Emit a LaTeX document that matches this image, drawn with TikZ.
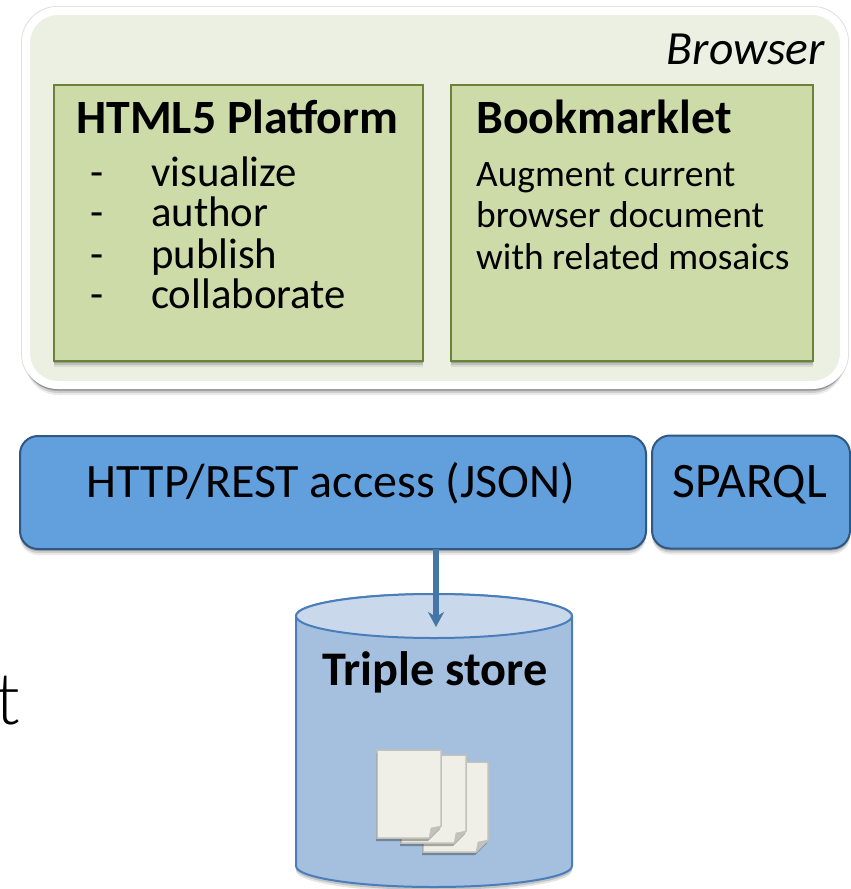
\documentclass[tikz,border=0pt]{standalone}
\usepackage{fontspec}
\setmainfont{Carlito}
\usetikzlibrary{shadows,arrows.meta}
\definecolor{browserfill}{HTML}{EBF0E2}
\definecolor{panelfill}{HTML}{CDDBA9}
\definecolor{paneledge}{HTML}{6B8238}
\definecolor{apifill}{HTML}{629FDD}
\definecolor{apiedge}{HTML}{2F5883}
\definecolor{storefill}{HTML}{A5BFDF}
\definecolor{storetop}{HTML}{C9D8EB}
\definecolor{storeedge}{HTML}{4A7EBB}
\definecolor{arrowedge}{HTML}{4576A8}
\definecolor{paperfill}{HTML}{EFEFE8}
\definecolor{paperedge}{HTML}{C2C2BC}
\tikzset{
softshadow/.style={
drop shadow={shadow xshift=0pt,shadow yshift=-#1-6pt,opacity=.08,fill=black},
drop shadow={shadow xshift=0pt,shadow yshift=-#1-4pt,opacity=.12,fill=black},
drop shadow={shadow xshift=0pt,shadow yshift=-#1-2pt,opacity=.2,fill=black}},
panel/.style={draw=paneledge,line width=2pt,fill=panelfill,minimum width=#1,minimum height=276pt,inner sep=0pt,outer sep=0pt,softshadow=0pt},
api/.style={draw=apiedge,line width=2pt,fill=apifill,rounded corners=18pt,minimum width=#1,minimum height=113pt,inner sep=0pt,outer sep=0pt,softshadow=0pt},
heading/.style={anchor=base west,inner sep=0pt,font=\fontsize{47.8}{56}\selectfont\bfseries},
listitem/.style={anchor=base west,inner sep=0pt,font=\fontsize{42.8}{50}\selectfont},
bodyline/.style={anchor=base west,inner sep=0pt,font=\fontsize{37.4}{44}\selectfont}
}
\begin{document}
\begin{tikzpicture}[x=1pt,y=-1pt,>=stealth]
\useasboundingbox (0,0) rectangle (851,889);
\def\storebody{(296,616)--(296,866) arc[start angle=180,end angle=360,x radius=138pt,y radius=21pt]--(572,616) arc[start angle=0,end angle=180,x radius=138pt,y radius=22pt]--cycle}
% browser frame
\node[draw=black!12,line width=1pt,rounded corners=36pt,minimum width=827pt,minimum height=383pt,inner sep=0pt] (browseredge) at (435,198) {};
\node[draw=white,line width=8pt,fill=browserfill,rounded corners=32pt,minimum width=818pt,minimum height=374pt,inner sep=0pt,softshadow=4pt] (browser) at (435,198) {};
\node[anchor=base east,inner sep=0pt,font=\fontsize{47.6}{56}\selectfont\itshape] (browserlabel) at (825,64) {Browser};
\node[panel=369pt] (html) at (238.5,223) {};
\node[panel=362pt] (bookmark) at (632,223) {};
\node[heading] (htmltitle) at (76,133) {HTML5 Platform};
\node[heading] (bookmarktitle) at (476,133) {Bookmarklet};
\foreach \n/\t/\y in {a/visualize/186,b/author/226,c/publish/268,d/collaborate/308}{
\node[listitem] (dash\n) at (90,\y) {-};
\node[listitem] (item\n) at (151,\y) {\t};
}
\foreach \n/\t/\y in {a/Augment current/186,b/browser document/227,c/with related mosaics/269}{
\node[bodyline] (line\n) at (476,\y) {\t};
}
% access layer
\node[api=626pt] (http) at (333,492.5) {};
\node[api=198pt] (sparql) at (751,492) {};
\node[anchor=base,inner sep=0pt,font=\fontsize{48}{56}\selectfont] (httplabel) at (331,497) {HTTP/REST access (JSON)};
\node[anchor=base,inner sep=0pt,font=\fontsize{49.6}{56}\selectfont] (sparqllabel) at (750,497) {SPARQL};
% store
\foreach \s/\o in {5/.1,3/.15}{
\fill[black,opacity=\o,yshift=-\s pt] \storebody;
}
\draw[fill=storefill,draw=storeedge,line width=2pt] \storebody;
\draw[fill=storetop,draw=storeedge,line width=2pt] (434,616) ellipse [x radius=138pt,y radius=22pt];
\node[anchor=base,inner sep=0pt,font=\fontsize{48.3}{56}\selectfont\bfseries] (storelabel) at (435,685) {Triple store};
\coordinate (storein) at (436,627);
\draw[->,arrowedge,line width=5.5pt,>={Stealth[length=15pt,width=16pt]}] (storein |- http.south)--(storein);
% pages, back one first
\foreach \l/\r/\t/\b in {423/488/762/852,401/466/755/843,377/441/750/838}{
\draw[fill=paperfill,draw=paperedge,line width=1.5pt,drop shadow={shadow xshift=-1pt,shadow yshift=-3pt,opacity=.3,fill=black}] (\l,\t)--(\r,\t)--(\r,\b-12)--(\r-12,\b)--(\l,\b)--cycle;
\draw[fill=paperedge,draw=paperedge,line width=.5pt] (\r,\b-12)--(\r-12,\b)--(\r-10,\b-10)--cycle;
}
% cut-off letter at the left edge
\node[anchor=base,inner sep=0pt,font=\fontspec{Lato Light}\fontsize{72}{80}\selectfont] (stray) at (8,724) {t};
\end{tikzpicture}
\end{document}
